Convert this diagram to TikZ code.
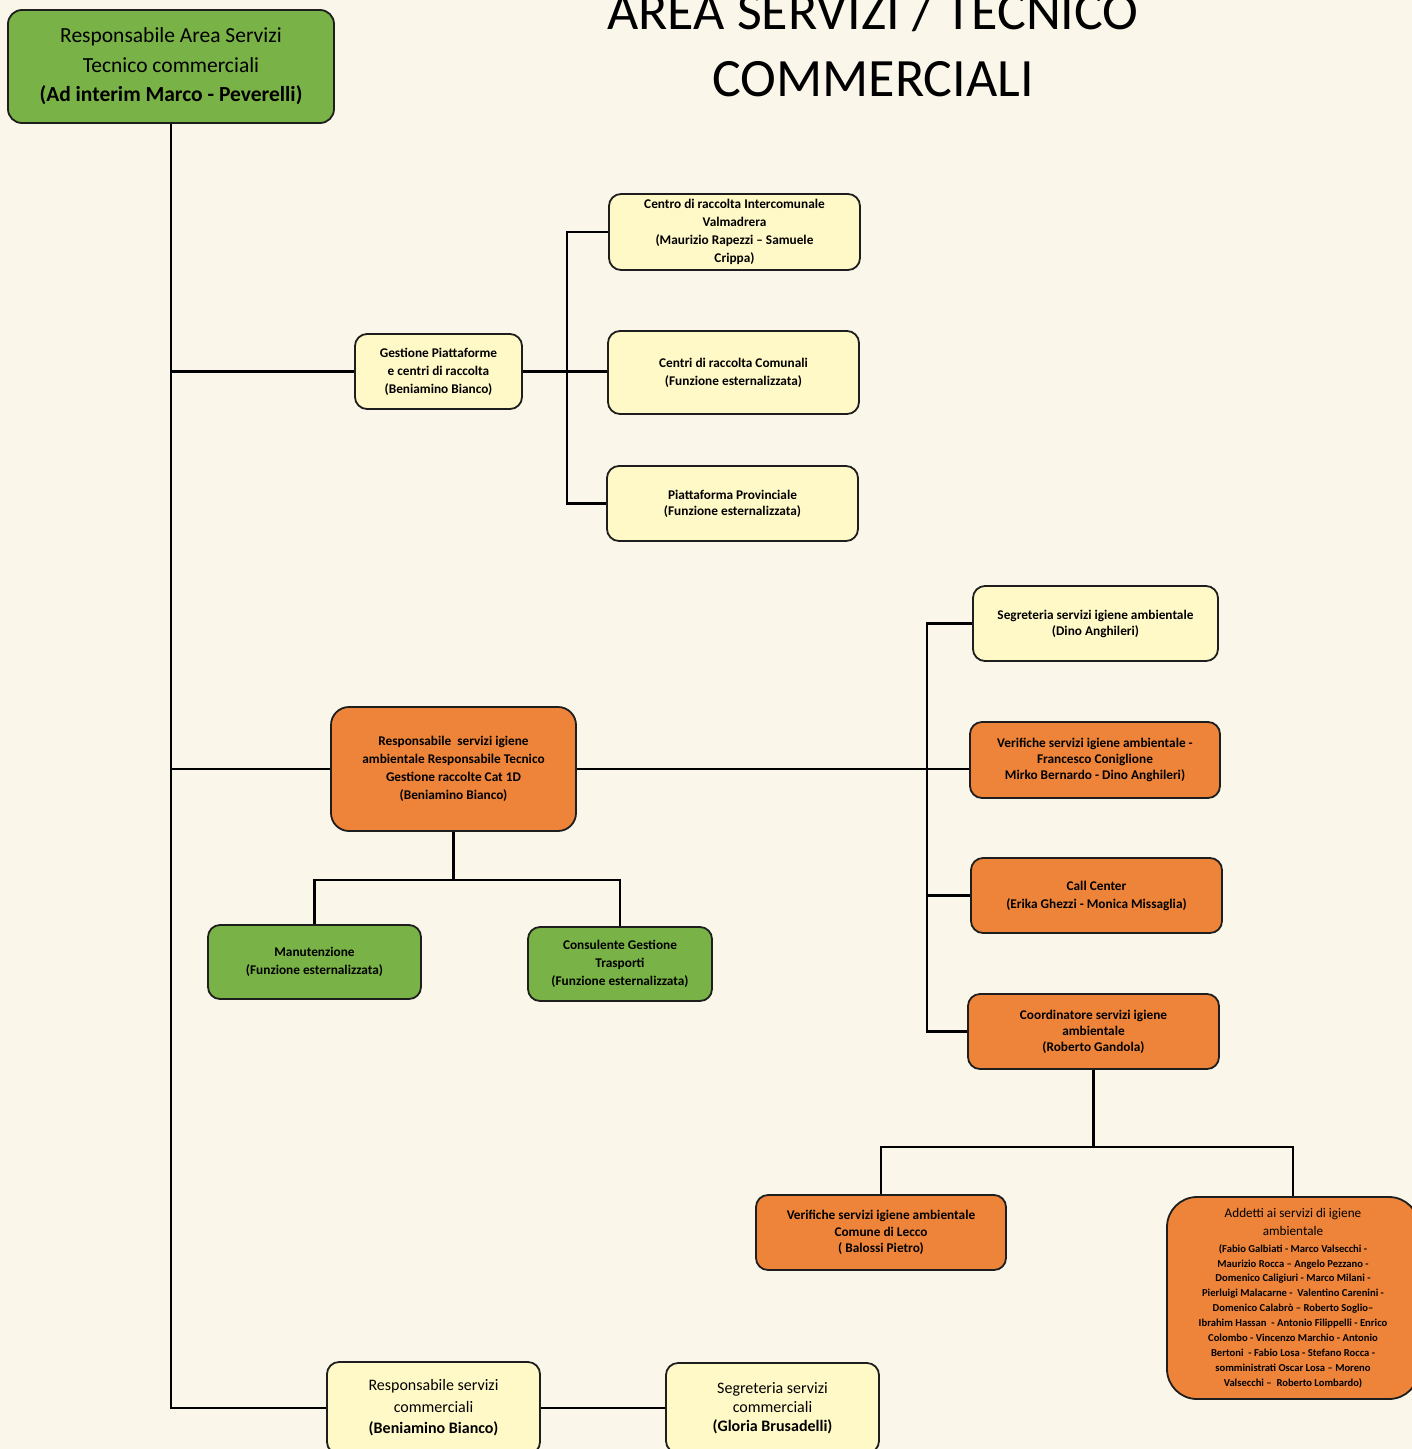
\documentclass[tikz,border=0pt]{standalone}
\usepackage{fontspec}
\setmainfont{Carlito}
\usetikzlibrary{positioning,calc}

\definecolor{paper}{RGB}{250,246,233}
\definecolor{boxyellow}{RGB}{255,249,199}
\definecolor{boxorange}{RGB}{238,132,58}
\definecolor{boxgreen}{RGB}{121,178,70}
\definecolor{edge}{RGB}{30,30,30}

\begin{document}
\begin{tikzpicture}[x=1pt,y=-1pt,
    box/.style={draw=edge, line width=1.8pt, rounded corners=12pt, align=center, inner sep=2pt},
    ybox/.style={box, fill=boxyellow},
    obox/.style={box, fill=boxorange},
    gbox/.style={box, fill=boxgreen},
    boxsize/.style 2 args={minimum width=#1pt, minimum height=#2pt},
    small/.style={font=\fontsize{13.3}{18}\selectfont\bfseries},
    tight/.style={font=\fontsize{13.3}{16}\selectfont\bfseries},
    link/.style={draw=black, line width=2.8pt}]

  % Page
  \useasboundingbox (0,0) rectangle (1412,1449);
  \clip (0,0) rectangle (1412,1449);
  \fill[paper] (0,0) rectangle (1412,1449);

  % Title
  \node[anchor=south, inner sep=0pt, align=center, font=\fontsize{54}{67}\selectfont] (title) at (873,97)
    {AREA SERVIZI / TECNICO\\COMMERCIALI};

  % Nodes
  \node[gbox, boxsize={326}{113}, rounded corners=14pt, font=\fontsize{21.5}{29.5}\selectfont] (top) at (171,66.5)
    {Responsabile Area Servizi\\Tecnico commerciali\\\bfseries(Ad interim Marco - Peverelli)};

  \node[ybox, small, boxsize={167}{75}] (gest) at (438.5,371.5)
    {Gestione Piattaforme\\e centri di raccolta\\(Beniamino Bianco)};
  \node[ybox, small, boxsize={251}{76}] (cri) at (734.5,232)
    {Centro di raccolta Intercomunale\\Valmadrera\\(Maurizio Rapezzi -- Samuele\\Crippa)};
  \node[ybox, small, boxsize={251}{83}] (ccc) at (733.5,372.5)
    {Centri di raccolta Comunali\\(Funzione esternalizzata)};
  \node[ybox, tight, boxsize={251}{75}] (ppr) at (732.5,503.5)
    {Piattaforma Provinciale\\(Funzione esternalizzata)};

  \node[obox, small, boxsize={245}{124}, rounded corners=18pt] (rsi) at (453.5,769)
    {Responsabile\ \ servizi igiene\\ambientale Responsabile Tecnico\\Gestione raccolte Cat 1D\\(Beniamino Bianco)};
  \node[gbox, small, boxsize={213}{74}] (man) at (314.5,962)
    {Manutenzione\\(Funzione esternalizzata)};
  \node[gbox, small, boxsize={184}{74}] (con) at (620,964)
    {Consulente Gestione\\Trasporti\\(Funzione esternalizzata)};

  \node[ybox, tight, boxsize={245}{75}] (seg) at (1095.5,623.5)
    {Segreteria servizi igiene ambientale\\(Dino Anghileri)};
  \node[obox, tight, boxsize={250}{76}] (ver) at (1095,760)
    {Verifiche servizi igiene ambientale -\\Francesco Coniglione\\Mirko Bernardo - Dino Anghileri)};
  \node[obox, small, boxsize={251}{75}] (cal) at (1096.5,895.5)
    {Call Center\\(Erika Ghezzi - Monica Missaglia)};
  \node[obox, tight, boxsize={251}{75}] (coo) at (1093.5,1031.5)
    {Coordinatore servizi igiene\\ambientale\\(Roberto Gandola)};

  \node[obox, font=\fontsize{13.3}{16.5}\selectfont\bfseries, boxsize={250}{75}] (vlc) at (881,1232.5)
    {Verifiche servizi igiene ambientale\\Comune di Lecco\\( Balossi Pietro)};
  \node[obox, boxsize={252}{202}, rounded corners=30pt, font=\fontsize{10.6}{14.9}\selectfont\bfseries] (add) at (1293,1298)
    {\fontsize{13.2}{18}\selectfont\mdseries Addetti ai servizi di igiene\\[3pt]
     \fontsize{13.2}{18}\selectfont\mdseries ambientale\\[2pt]
     (Fabio Galbiati - Marco Valsecchi -\\Maurizio Rocca -- Angelo Pezzano -\\Domenico Caligiuri - Marco Milani -\\
     Pierluigi Malacarne -\ \ Valentino Carenini -\\Domenico Calabrò -- Roberto Soglio--\\
     Ibrahim Hassan\ \ - Antonio Filippelli - Enrico\\Colombo - Vincenzo Marchio - Antonio\\
     Bertoni\ \ - Fabio Losa - Stefano Rocca -\\somministrati Oscar Losa -- Moreno\\Valsecchi --\ \ Roberto Lombardo)};

  \node[ybox, boxsize={213}{92}, font=\fontsize{16}{21.5}\selectfont] (rsc) at (433.5,1408)
    {Responsabile servizi\\commerciali\\\bfseries(Beniamino Bianco)};
  \node[ybox, boxsize={213}{90}, font=\fontsize{16}{19}\selectfont] (ssc) at (772.5,1408)
    {Segreteria servizi\\commerciali\\\bfseries(Gloria Brusadelli)};

  % Trunk from the head of the area
  \draw[link] (top.south) |- (rsc.west);
  \foreach \child in {gest,rsi} {
    \draw[link] (top.south) |- (\child.west);
  }
  \draw[link] (rsc.east) -- (ssc.west);

  % Platforms and collection centres
  \draw[link] (gest.east) -- (gest.east -| ccc.west);
  \coordinate (bus1) at ($(gest.east)+(44,0)$);
  \foreach \child in {cri,ppr} {
    \draw[link] (bus1) |- (\child.west);
  }

  % Environmental services
  \coordinate (bus2) at (927,769);
  \draw[link] (rsi.east) -- (rsi.east -| ver.west);
  \draw[link] (seg.west) -| (bus2) |- (coo.west);
  \draw[link] (bus2) |- (cal.west);

  % Below the environmental services head
  \draw[link] (rsi.south) -- ++(0,48) coordinate (j1);
  \draw[link] (man.north) |- (j1) -| (con.north);

  % Below the coordinator
  \draw[link] (coo.south) -- ++(0,77) coordinate (j2);
  \draw[link] (vlc.north) |- (j2) -| (add.north);
\end{tikzpicture}
\end{document}
